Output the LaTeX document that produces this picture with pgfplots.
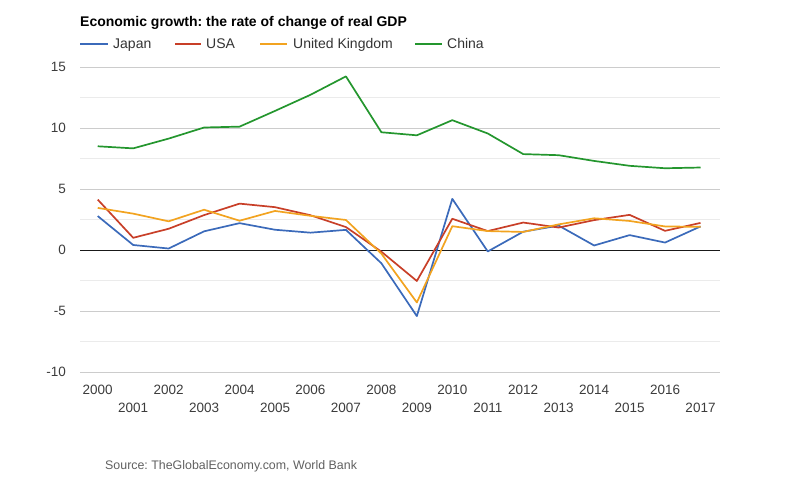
\documentclass[border=0pt]{standalone}
\usepackage{pgfplots}
\pgfplotsset{compat=1.18}
\usepackage{fontspec}
\setmainfont{Liberation Sans}
\frenchspacing
\definecolor{cjapan}{RGB}{59,106,186}
\definecolor{cusa}{RGB}{200,63,40}
\definecolor{cuk}{RGB}{242,163,32}
\definecolor{cchina}{RGB}{36,150,46}
\definecolor{gmajor}{RGB}{204,204,204}
\definecolor{gminor}{RGB}{235,235,235}
\definecolor{ticktext}{RGB}{60,60,60}
\definecolor{legtext}{RGB}{51,51,51}
\definecolor{srctext}{RGB}{96,96,96}
\begin{document}
\begin{tikzpicture}[x=1bp,y=1bp]
\useasboundingbox (0,0) rectangle (800,490);
\begin{axis}[
  at={(80bp,118bp)}, anchor=south west,
  width=640bp, height=305bp, scale only axis,
  xmin=1999.5, xmax=2017.55,
  ymin=-10, ymax=15,
  axis line style={draw=none},
  ytick={-10,-5,0,5,10,15},
  minor ytick={-7.5,-2.5,2.5,7.5,12.5},
  ymajorgrids, yminorgrids,
  major grid style={gmajor, line width=0.8bp},
  minor grid style={gminor, line width=0.8bp},
  xtick={2000,2002,...,2016},
  extra x ticks={2001,2003,...,2017},
  extra x tick style={xticklabel style={yshift=-18bp}, grid=none},
  major tick length=0pt, minor tick length=0pt,
  /pgf/number format/1000 sep={},
  /pgf/number format/assume math mode=true,
  tick label style={font=\fontsize{13.5bp}{16bp}\selectfont, text=ticktext},
  xticklabel style={anchor=base, inner sep=0pt, yshift=-22.5bp},
  yticklabel style={anchor=east, inner sep=0pt, xshift=-14bp},
  clip=false,
  every axis plot/.append style={line width=1.7bp, line join=round},
]
\addplot[gray!20!black, line width=0.9bp, forget plot] coordinates {(1999.5,0) (2017.55,0)};
\addplot[cjapan] coordinates {
(2000,2.78) (2001,0.41) (2002,0.12) (2003,1.53) (2004,2.20) (2005,1.66)
(2006,1.42) (2007,1.65) (2008,-1.09) (2009,-5.42) (2010,4.19) (2011,-0.12)
(2012,1.50) (2013,2.00) (2014,0.37) (2015,1.22) (2016,0.61) (2017,1.93)};
\addplot[cusa] coordinates {
(2000,4.13) (2001,1.00) (2002,1.74) (2003,2.86) (2004,3.80) (2005,3.51)
(2006,2.85) (2007,1.88) (2008,-0.14) (2009,-2.54) (2010,2.56) (2011,1.55)
(2012,2.25) (2013,1.84) (2014,2.45) (2015,2.88) (2016,1.57) (2017,2.22)};
\addplot[cuk] coordinates {
(2000,3.45) (2001,2.98) (2002,2.35) (2003,3.30) (2004,2.40) (2005,3.20)
(2006,2.80) (2007,2.46) (2008,-0.30) (2009,-4.30) (2010,1.95) (2011,1.55)
(2012,1.48) (2013,2.10) (2014,2.60) (2015,2.38) (2016,1.93) (2017,1.90)};
\addplot[cchina] coordinates {
(2000,8.50) (2001,8.33) (2002,9.13) (2003,10.04) (2004,10.11) (2005,11.40)
(2006,12.72) (2007,14.23) (2008,9.65) (2009,9.40) (2010,10.64) (2011,9.55)
(2012,7.86) (2013,7.77) (2014,7.30) (2015,6.90) (2016,6.70) (2017,6.76)};
\end{axis}
% title
\node[anchor=base west, inner sep=0, font=\fontsize{14bp}{16bp}\selectfont\bfseries] at (80,463.5) {Economic growth: the rate of change of real GDP};
% legend
\begin{scope}[font=\fontsize{14bp}{16bp}\selectfont, text=legtext]
\draw[cjapan, line width=1.7bp] (80,446) -- (108,446);
\node[anchor=base west, inner sep=0] at (113,441) {Japan};
\draw[cusa, line width=1.7bp] (175,446) -- (201,446);
\node[anchor=base west, inner sep=0] at (206,441) {USA};
\draw[cuk, line width=1.7bp] (260,446) -- (287,446);
\node[anchor=base west, inner sep=0] at (293,441) {United Kingdom};
\draw[cchina, line width=1.7bp] (415,446) -- (442,446);
\node[anchor=base west, inner sep=0] at (447,441) {China};
\end{scope}
% source
\node[anchor=base west, inner sep=0, font=\fontsize{12.4bp}{14bp}\selectfont, text=srctext] at (105,20) {Source: TheGlobalEconomy.com, World Bank};
\end{tikzpicture}
\end{document}
